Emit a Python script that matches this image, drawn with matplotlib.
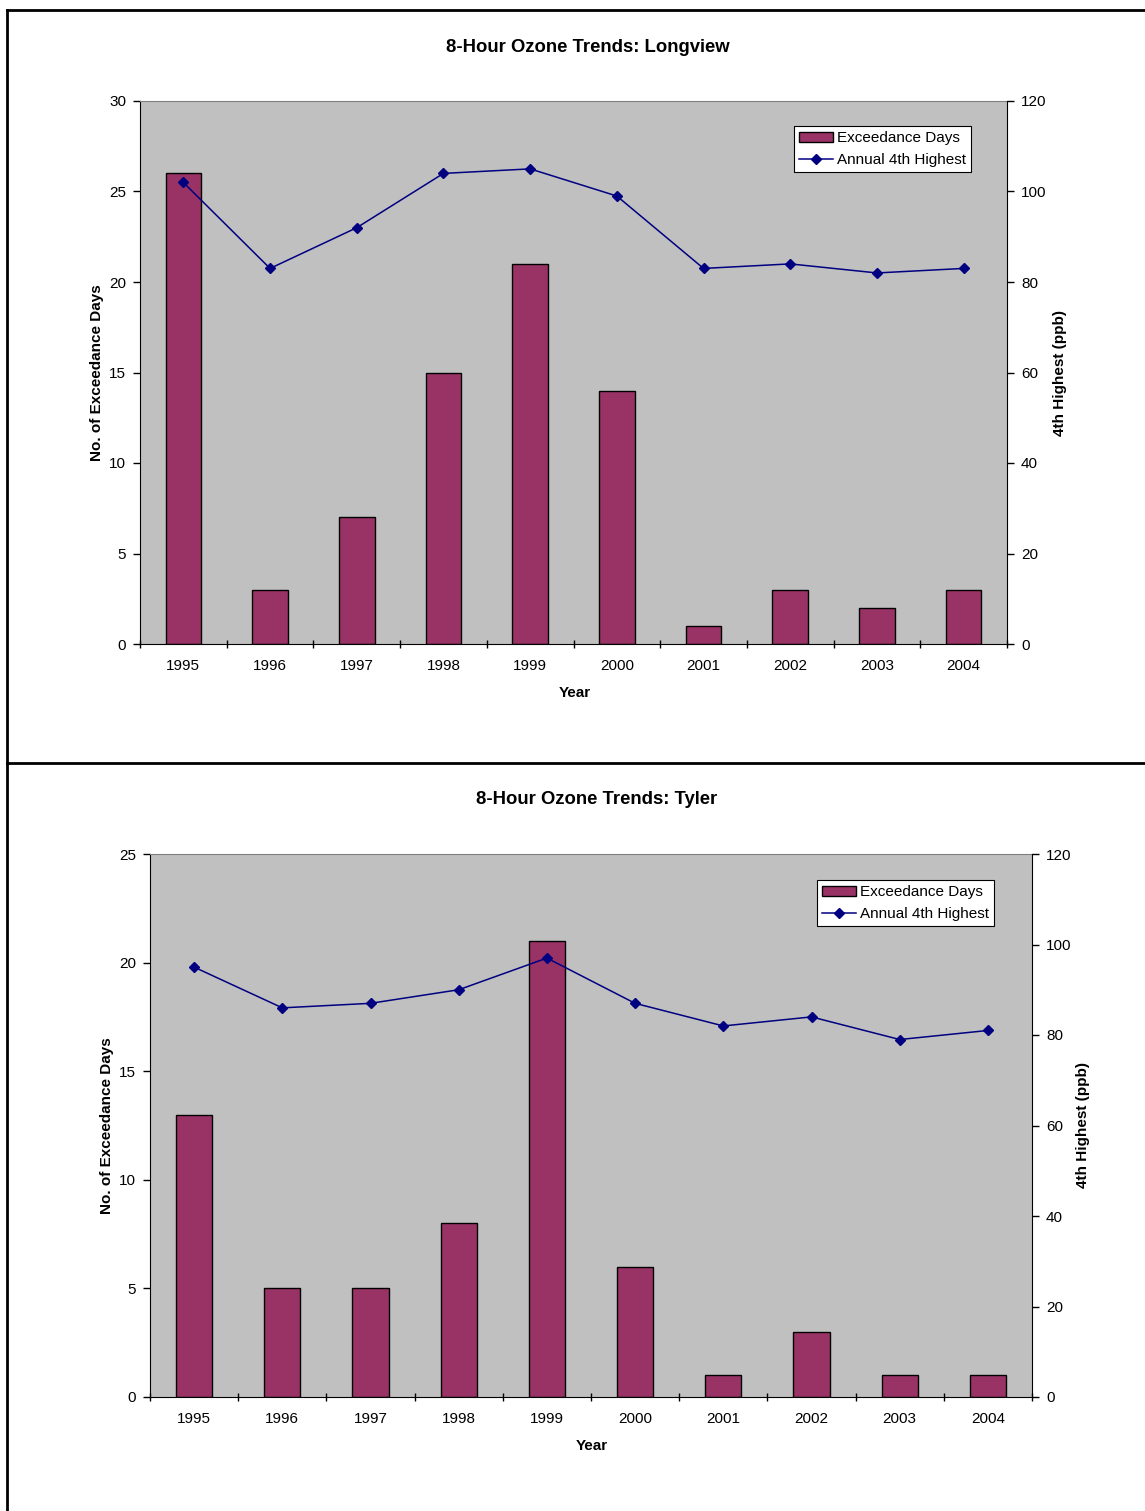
import matplotlib
matplotlib.use("Agg")
import matplotlib.pyplot as plt
from matplotlib.lines import Line2D
import numpy as np

plt.rcParams['font.family'] = ['Liberation Sans', 'DejaVu Sans']

years = ['1995', '1996', '1997', '1998', '1999', '2000', '2001', '2002', '2003', '2004']

longview_days = [26, 3, 7, 15, 21, 14, 1, 3, 2, 3]
longview_4th = [102, 83, 92, 104, 105, 99, 83, 84, 82, 83]

tyler_days = [13, 5, 5, 8, 21, 6, 1, 3, 1, 1]
tyler_4th = [95, 86, 87, 90, 97, 87, 82, 84, 79, 81]

W, H = 1145, 1511
fig = plt.figure(figsize=(W / 100, H / 100), dpi=100)

BAR = '#993366'
LINE = '#000080'
BG = '#C0C0C0'


def panel(rect, title, title_xy, year_xy, ylab_x, ylab2_x, days, fourth, ymax, ystep, leg_corner):
    l, t, r, b = rect
    ax = fig.add_axes([l / W, 1 - b / H, (r - l) / W, (b - t) / H])
    ax.set_facecolor(BG)
    x = np.arange(len(years))
    ax.bar(x, days, width=0.41, color=BAR, edgecolor='black', linewidth=1.0,
           zorder=2, label='Exceedance Days')
    ax.set_xlim(-0.5, len(years) - 0.5)
    ax.set_ylim(0, ymax)
    ax.set_yticks(np.arange(0, ymax + 0.1, ystep))
    ax.set_xticks(x)
    ax.set_xticklabels(years)
    ax.set_xticks(np.arange(-0.5, len(years), 1.0), minor=True)
    ax.tick_params(axis='x', which='major', length=0, pad=11, labelsize=11)
    ax.tick_params(axis='x', which='minor', length=6, width=1, direction='inout')
    ax.tick_params(axis='y', length=5, width=1, direction='out', labelsize=11, pad=5)
    ax.spines['top'].set_color('#808080')
    ax.spines['right'].set_visible(False)
    ax.spines['left'].set_color('black')
    ax.spines['bottom'].set_color('black')

    ax2 = ax.twinx()
    ax2.plot(x, fourth, color=LINE, marker='D', markersize=5, linewidth=1.1,
             zorder=3, label='Annual 4th Highest')
    ax2.set_ylim(0, 120)
    ax2.set_yticks(np.arange(0, 121, 20))
    ax2.tick_params(axis='y', length=5, width=1, direction='out', labelsize=11, pad=5)
    ax2.spines['top'].set_visible(False)
    ax2.spines['left'].set_visible(False)
    ax2.spines['bottom'].set_visible(False)
    ax2.spines['right'].set_color('black')

    h1, l1 = ax.get_legend_handles_labels()
    h2, l2 = ax2.get_legend_handles_labels()
    leg = ax2.legend(h1 + h2, l1 + l2, loc='upper right',
                     bbox_to_anchor=(leg_corner[0] / W, 1 - leg_corner[1] / H),
                     bbox_transform=fig.transFigure,
                     fontsize=11, frameon=True, fancybox=False, framealpha=1,
                     edgecolor='black', handlelength=2.2, handletextpad=0.25,
                     borderpad=0.35, labelspacing=0.5, borderaxespad=0)
    leg.get_frame().set_linewidth(0.8)

    fig.text(title_xy[0] / W, 1 - title_xy[1] / H, title, ha='center', va='center',
             fontsize=13.3, fontweight='bold')
    fig.text(year_xy[0] / W, 1 - year_xy[1] / H, 'Year', ha='center', va='center',
             fontsize=11, fontweight='bold')
    fig.text(ylab_x / W, 1 - (t + b) / 2 / H, 'No. of Exceedance Days', rotation=90,
             ha='center', va='center', fontsize=11, fontweight='bold')
    fig.text(ylab2_x / W, 1 - (t + b) / 2 / H, '4th Highest (ppb)', rotation=90,
             ha='center', va='center', fontsize=11, fontweight='bold')
    return ax


panel((140, 101, 1007, 644), '8-Hour Ozone Trends: Longview', (588, 47),
      (575, 693), 97, 1060, longview_days, longview_4th, 30, 5, (971, 126))

panel((150, 854, 1032, 1397), '8-Hour Ozone Trends: Tyler', (597, 800),
      (592, 1446), 107, 1083, tyler_days, tyler_4th, 25, 5, (994, 880))

# outer frame lines
fig.add_artist(Line2D([7 / W, 1], [1 - 10 / H, 1 - 10 / H], color='black', linewidth=2))
fig.add_artist(Line2D([7 / W, 7 / W], [0, 1 - 10 / H], color='black', linewidth=2))
fig.add_artist(Line2D([7 / W, 1], [1 - 763 / H, 1 - 763 / H], color='black', linewidth=2))

fig.savefig('out.png', dpi=100)
